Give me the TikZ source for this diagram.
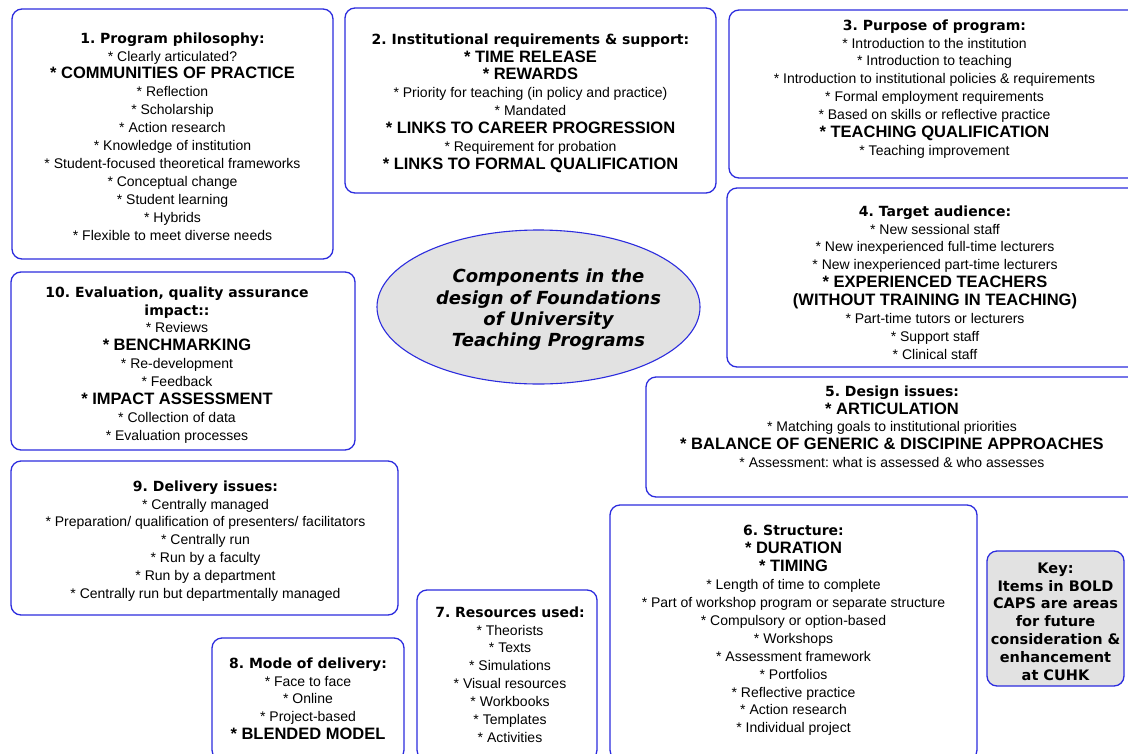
\documentclass[tikz,border=0pt]{standalone}
\usepackage{fontspec}
\usepackage{xcolor}
\usetikzlibrary{positioning,shapes.geometric}
\setmainfont{Liberation Sans}
\newfontfamily\verd{DejaVu Sans}
\definecolor{edgeblue}{RGB}{44,44,222}
\definecolor{keygray}{RGB}{226,226,226}
\newcommand\hd[1]{{\verd\bfseries\fontsize{14}{17.9}\selectfont #1}}
\newcommand\bc[1]{{\bfseries\fontsize{16.5}{17.9}\selectfont #1}}
\frenchspacing

\begin{document}
\begin{tikzpicture}[x=1pt,y=-1pt,
  panel/.style={draw=edgeblue,line width=1.3pt,rounded corners=10pt,fill=white,
    inner sep=0pt},
  txt/.style={align=center,inner sep=0pt,font=\fontsize{14}{17.9}\selectfont},
  keypanel/.style={panel,fill=keygray},
  hub/.style={ellipse,draw=edgeblue,line width=1.1pt,fill=keygray,inner sep=0pt}
]
  \useasboundingbox (0,0) rectangle (1128,753);
  \clip (0,0) rectangle (1128,753);
  \fill[white] (0,0) rectangle (1128,753);

  \node[panel,minimum width=321pt,minimum height=250pt] (philo)  at (172.5,134) {};
  \node[panel,minimum width=371pt,minimum height=185pt] (inst)   at (530.5,100.5) {};
  \node[panel,minimum width=411pt,minimum height=168pt] (purp)   at (934.5,94) {};
  \node[panel,minimum width=416pt,minimum height=179pt] (aud)    at (935,277.5) {};
  \node[panel,minimum width=494pt,minimum height=120pt] (design) at (893,437) {};
  \node[panel,minimum width=344pt,minimum height=178pt] (eval)   at (183,361) {};
  \node[panel,minimum width=387pt,minimum height=154pt] (deliv)  at (204.5,538) {};
  \node[panel,minimum width=192pt,minimum height=122pt] (mode)   at (308,699) {};
  \node[panel,minimum width=180pt,minimum height=170pt] (res)    at (507,675) {};
  \node[panel,minimum width=367pt,minimum height=255pt] (struct) at (793.5,632.5) {};
  \node[keypanel,minimum width=137pt,minimum height=135pt] (key) at (1055.5,618.5) {};
  \node[hub,minimum width=323pt,minimum height=154pt] (hub) at (538.5,307) {};

  \node[txt,below=24pt of philo.north] (philo-t) {\hd{1. Program philosophy:}\\
    * Clearly articulated?\\ \bc{* COMMUNITIES OF PRACTICE}\\ * Reflection\\
    * Scholarship\\ * Action research\\ * Knowledge of institution\\
    * Student-focused theoretical frameworks\\ * Conceptual change\\
    * Student learning\\ * Hybrids\\ * Flexible to meet diverse needs};
  \node[txt,below=26pt of inst.north] (inst-t) {\hd{2. Institutional requirements \& support:}\\
    \bc{* TIME RELEASE}\\ \bc{* REWARDS}\\
    * Priority for teaching (in policy and practice)\\ * Mandated\\
    \bc{* LINKS TO CAREER PROGRESSION}\\ * Requirement for probation\\
    \bc{* LINKS TO FORMAL QUALIFICATION}};
  \node[txt,below=10pt of purp.north] (purp-t) {\hd{3. Purpose of program:}\\
    * Introduction to the institution\\ * Introduction to teaching\\
    * Introduction to institutional policies \& requirements\\
    * Formal employment requirements\\ * Based on skills or reflective practice\\
    \bc{* TEACHING QUALIFICATION}\\ * Teaching improvement};
  \node[txt,below=18pt of aud.north] (aud-t) {\hd{4. Target audience:}\\
    * New sessional staff\\ * New inexperienced full-time lecturers\\
    * New inexperienced part-time lecturers\\ \bc{* EXPERIENCED TEACHERS}\\
    \bc{(WITHOUT TRAINING IN TEACHING)}\\ * Part-time tutors or lecturers\\
    * Support staff\\ * Clinical staff};
  \node[txt,below=9pt of design.north,xshift=-1pt] (design-t) {\hd{5. Design issues:}\\
    \bc{* ARTICULATION}\\ * Matching goals to institutional priorities\\
    \bc{* BALANCE OF GENERIC \& DISCIPINE APPROACHES}\\
    * Assessment: what is assessed \& who assesses};
  \node[txt,below=21pt of struct.north] (struct-t) {\hd{6. Structure:}\\
    \bc{* DURATION}\\ \bc{* TIMING}\\ * Length of time to complete\\
    * Part of workshop program or separate structure\\
    * Compulsory or option-based\\ * Workshops\\ * Assessment framework\\
    * Portfolios\\ * Reflective practice\\ * Action research\\ * Individual project};
  \node[txt,below=17pt of res.north,xshift=3pt] (res-t) {\hd{7. Resources used:}\\
    * Theorists\\ * Texts\\ * Simulations\\ * Visual resources\\ * Workbooks\\
    * Templates\\ * Activities};
  \node[txt,below=20pt of mode.north] (mode-t) {\hd{8. Mode of delivery:}\\
    * Face to face\\ * Online\\ * Project-based\\ \bc{* BLENDED MODEL}};
  \node[txt,below=20pt of deliv.north,xshift=1pt] (deliv-t) {\hd{9. Delivery issues:}\\
    * Centrally managed\\ * Preparation/ qualification of presenters/ facilitators\\
    * Centrally run\\ * Run by a faculty\\ * Run by a department\\
    * Centrally run but departmentally managed};
  \node[txt,below=15pt of eval.north,xshift=-6pt] (eval-t) {\hd{10. Evaluation, quality assurance}\\
    \hd{impact::}\\ * Reviews\\ \bc{* BENCHMARKING}\\ * Re-development\\
    * Feedback\\ \bc{* IMPACT ASSESSMENT}\\ * Collection of data\\
    * Evaluation processes};
  \node[txt,below=12pt of key.north,font=\verd\bfseries\fontsize{14.5}{17.9}\selectfont]
    (key-t) {Key:\\ Items in BOLD\\ CAPS are areas\\ for future\\
    consideration \&\\ enhancement\\ at CUHK};
  \node[txt,xshift=10pt,yshift=-3pt,font=\verd\bfseries\itshape\fontsize{18}{21.3}\selectfont]
    (hub-t) at (hub) {Components in the\\ design of Foundations\\ of University\\
    Teaching Programs};
\end{tikzpicture}
\end{document}
